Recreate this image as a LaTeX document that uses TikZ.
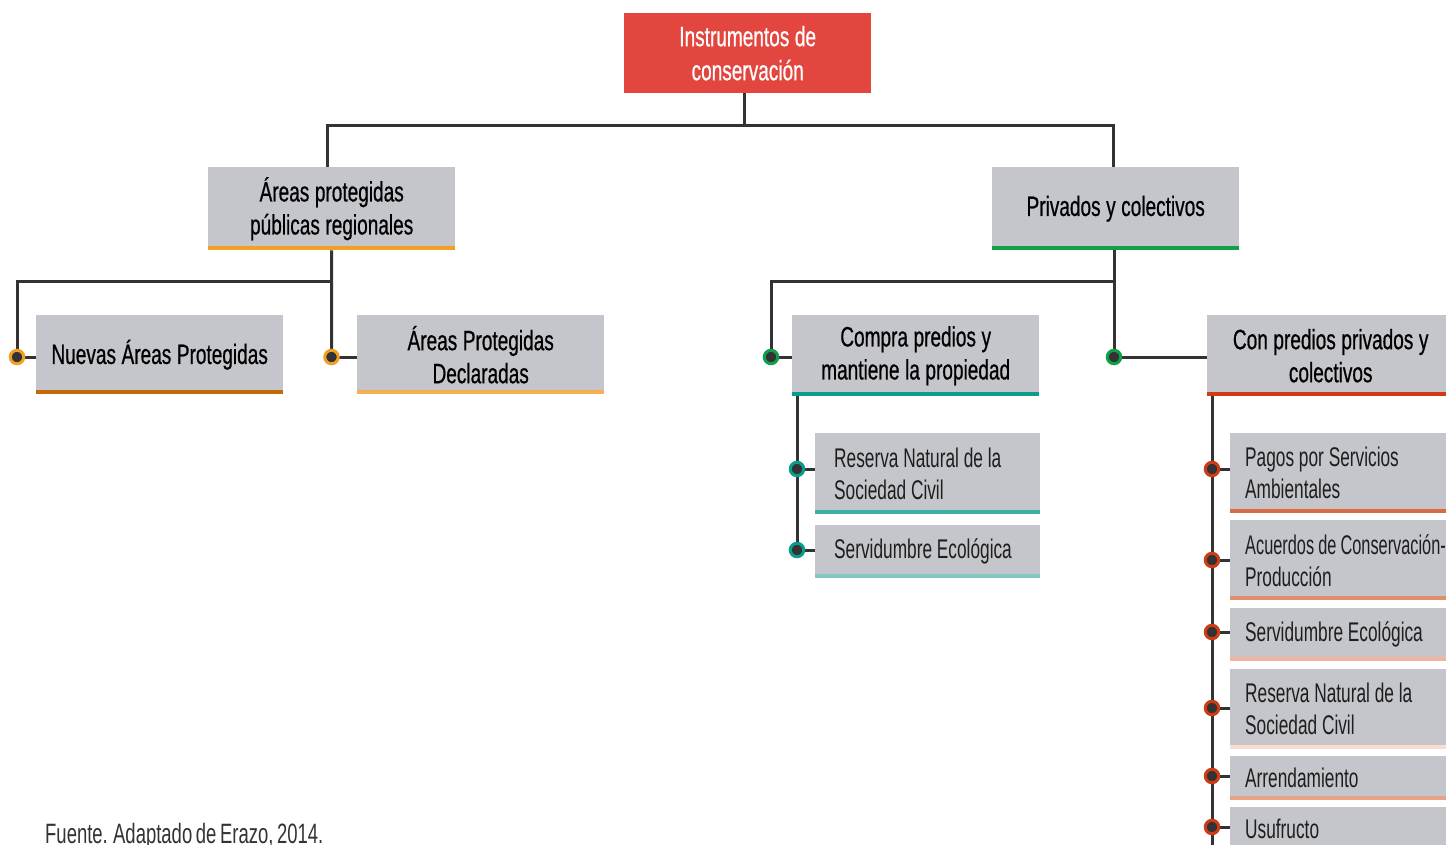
\documentclass[tikz,border=0pt]{standalone}
\usepackage{fontspec}
\setmainfont{Liberation Sans}[FakeStretch=0.68,WordSpace=1.0]
\newfontfamily\headfont{Liberation Sans}[FakeStretch=0.68,WordSpace=1.05,FakeBold=0.6]
\newfontfamily\leaffont{Liberation Sans}[FakeStretch=0.64,WordSpace=1.0]
\newfontfamily\leafnarrow{Liberation Sans}[FakeStretch=0.605,WordSpace=0.9]
\newfontfamily\srcfont{Liberation Sans}[FakeStretch=0.66,WordSpace=0.7]
\newcommand{\nohyph}{\hyphenpenalty=10000\relax\exhyphenpenalty=10000\relax}
\usetikzlibrary{backgrounds,calc}
\definecolor{topred}{HTML}{E3463F}
\definecolor{boxgray}{HTML}{C5C6CB}
\definecolor{linedark}{HTML}{333333}
\definecolor{orA}{HTML}{F0A024}
\definecolor{orB}{HTML}{C06A08}
\definecolor{orC}{HTML}{F4B050}
\definecolor{grA}{HTML}{10A04A}
\definecolor{tlA}{HTML}{0C9C8C}
\definecolor{tlB}{HTML}{3AB0A6}
\definecolor{tlC}{HTML}{80C9C1}
\definecolor{rdA}{HTML}{CF3B14}
\definecolor{rdB}{HTML}{D96A43}
\definecolor{rdC}{HTML}{E18C6C}
\definecolor{rdD}{HTML}{F2B49C}
\definecolor{rdE}{HTML}{FADDD0}
\definecolor{rdF}{HTML}{E9A283}
\definecolor{leaftext}{HTML}{1E1E1E}
\tikzset{
  conn/.style={draw=linedark, line width=3pt},
  hbox/.style={fill=boxgray, anchor=north west, inner sep=0pt, minimum width=247pt,
     text width=240pt, align=flush center, font=\headfont\fontsize{28}{33}\selectfont\nohyph, text=black},
  leafA/.style={fill=boxgray, anchor=north west, inner xsep=19pt, inner ysep=0pt,
     minimum width=225pt, text width=187pt, align=flush left, font=\leaffont\fontsize{27}{32}\selectfont\nohyph, text=leaftext},
  leafB/.style={fill=boxgray, anchor=north west, inner xsep=15pt, inner ysep=0pt,
     minimum width=270pt, text width=240pt, align=flush left, font=\leaffont\fontsize{27}{32}\selectfont\nohyph, text=leaftext},
  dot/.style={circle, fill=linedark, draw=#1, line width=3pt, minimum size=13.5pt, inner sep=0pt},
}
\newcommand{\barline}[2]{\draw[line width=4pt, #2] ([yshift=2pt]#1.south west) -- ([yshift=2pt]#1.south east);}
\begin{document}
\begin{tikzpicture}[x=1pt,y=-1pt]
\useasboundingbox (0,0) rectangle (1446,844);
% top
\node[fill=topred, anchor=north west, inner sep=0pt, minimum width=247pt, minimum height=80pt,
  text width=240pt, align=flush center, font=\headfont\fontsize{28}{34}\selectfont, text=white] (top) at (624,13)
  {Instrumentos de\\conservación};
% level 1
\node[hbox, minimum height=83pt] (apr) at (208,167) {Áreas protegidas\\públicas regionales};
\barline{apr}{orA}
\node[hbox, minimum height=83pt] (priv) at (992,167) {Privados y colectivos};
\barline{priv}{grA}
% level 2
\node[hbox, minimum height=79pt] (nap) at (36,315) {Nuevas Áreas Protegidas};
\barline{nap}{orB}
\node[hbox, minimum height=79pt] (apd) at (357,315) {Áreas Protegidas\\Declaradas};
\barline{apd}{orC}
\node[hbox, minimum height=81pt] (comp) at (792,315) {Compra predios y\\mantiene la propiedad};
\barline{comp}{tlA}
\node[hbox, minimum height=81pt] (con) at (1207,315) {Con predios privados y\\colectivos};
\barline{con}{rdA}
% compra leaves
\node[leafA, minimum height=81pt] (rn1) at (815,433) {Reserva Natural de la\\Sociedad Civil};
\barline{rn1}{tlB}
\node[leafA, minimum height=53pt] (se1) at (815,525) {Servidumbre Ecológica};
\barline{se1}{tlC}
% con predios leaves
\node[leafB, minimum height=80pt] (psa) at (1230,433) {Pagos por Servicios\\Ambientales};
\barline{psa}{rdB}
\node[leafB, minimum height=80pt] (acp) at (1230,520) {{\leafnarrow Acuerdos de Conservación-}\\Producción};
\barline{acp}{rdC}
\node[leafB, minimum height=53pt] (se2) at (1230,608) {Servidumbre Ecológica};
\barline{se2}{rdD}
\node[leafB, minimum height=80pt] (rn2) at (1230,669) {Reserva Natural de la\\Sociedad Civil};
\barline{rn2}{rdE}
\node[leafB, minimum height=44pt] (arr) at (1230,756) {Arrendamiento};
\barline{arr}{rdF}
\node[leafB, minimum height=44pt] (usu) at (1230,807) {Usufructo};
% dots
\node[dot=orA] (d1) at (17,357) {};
\node[dot=orA] (d2) at (331.5,357) {};
\node[dot=grA] (d3) at (771,357) {};
\node[dot=grA] (d4) at (1114,357) {};
\node[dot=tlA] (d5) at (797,469) {};
\node[dot=tlA] (d6) at (797,550) {};
\node[dot=rdA] (e1) at (1212,469) {};
\node[dot=rdA] (e2) at (1212,560) {};
\node[dot=rdA] (e3) at (1212,632) {};
\node[dot=rdA] (e4) at (1212,708) {};
\node[dot=rdA] (e5) at (1212,776) {};
\node[dot=rdA] (e6) at (1212,827) {};
\coordinate (bottom) at (1212,860);
% footer
\node[anchor=base west, inner sep=0pt, font=\srcfont\fontsize{28}{30}\selectfont, text=linedark] (src) at (45,843)
  {Fuente. Adaptado de Erazo, 2014.};
% connectors
\begin{pgfonlayer}{background}
\coordinate (j1) at ($(top.south)+(-3.5,32)$);
\draw[conn] (top.south -| j1) -- (j1);
\draw[conn] ([xshift=-4pt]apr.north) |- (j1) -| ([xshift=-2pt]priv.north);
\coordinate (j2) at ($(apr.south)+(0,31)$);
\draw[conn] (apr.south) -- (d2.center);
\draw[conn] (j2) -| (d1.center);
\draw[conn] (d1.center) -- (d1 -| nap.west);
\draw[conn] (d2.center) -- (d2 -| apd.west);
\coordinate (j3) at ($(priv.south)+(-1.5,31)$);
\draw[conn] (priv.south -| d4) -- (d4.center);
\draw[conn] (j3) -| (d3.center);
\draw[conn] (d3.center) -- (d3 -| comp.west);
\draw[conn] (d4.center) -- (d4 -| con.west);
\draw[conn] (comp.south west -| d5) -- (d6.center);
\draw[conn] (d5.center) -- (d5 -| rn1.west);
\draw[conn] (d6.center) -- (d6 -| se1.west);
\draw[conn] (con.south west -| e1) -- (bottom);
\draw[conn] (e1.center) -- (e1 -| psa.west);
\draw[conn] (e2.center) -- (e2 -| acp.west);
\draw[conn] (e3.center) -- (e3 -| se2.west);
\draw[conn] (e4.center) -- (e4 -| rn2.west);
\draw[conn] (e5.center) -- (e5 -| arr.west);
\draw[conn] (e6.center) -- (e6 -| usu.west);
\end{pgfonlayer}
\end{tikzpicture}
\end{document}
